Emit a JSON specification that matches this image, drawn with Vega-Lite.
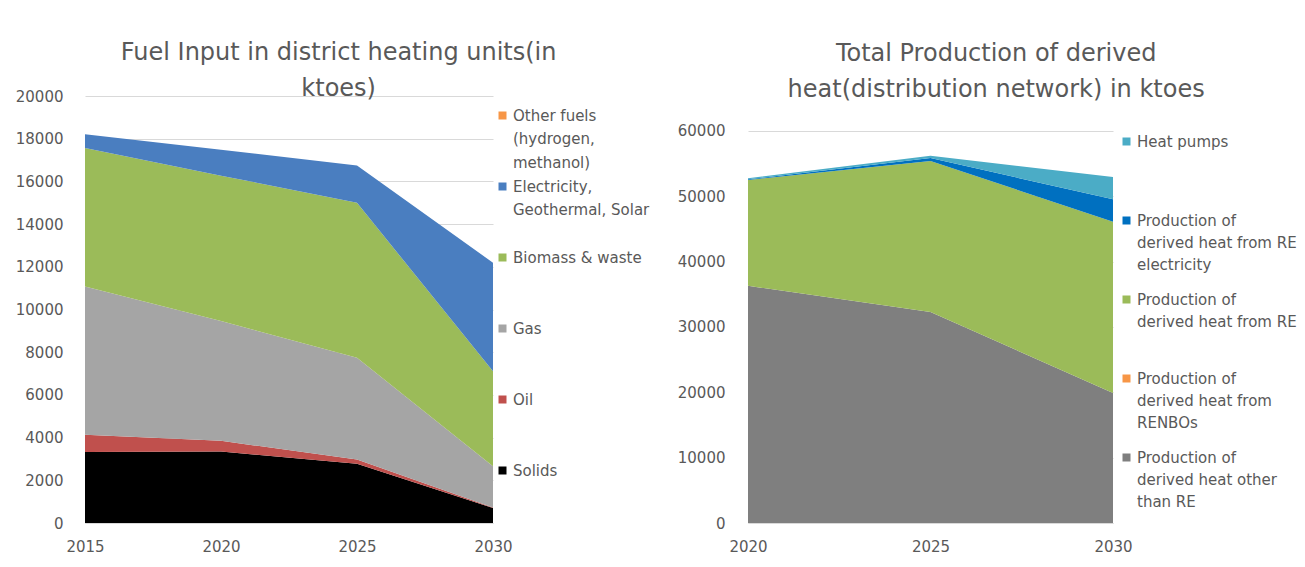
{
  "$schema": "https://vega.github.io/schema/vega-lite/v6.json",
  "background": "white",
  "padding": {"left": 15, "top": 41, "right": 5, "bottom": 5},
  "datasets": {
    "fuel": [
      {"year": 2015, "series": "Solids", "stack": 1, "value": 3330},
      {"year": 2015, "series": "Oil", "stack": 2, "value": 800},
      {"year": 2015, "series": "Gas", "stack": 3, "value": 6950},
      {"year": 2015, "series": "Biomass & waste", "stack": 4, "value": 6480},
      {"year": 2015, "series": "Electricity, Geothermal, Solar", "stack": 5, "value": 650},
      {"year": 2015, "series": "Other fuels (hydrogen, methanol)", "stack": 6, "value": 0},
      {"year": 2020, "series": "Solids", "stack": 1, "value": 3350},
      {"year": 2020, "series": "Oil", "stack": 2, "value": 500},
      {"year": 2020, "series": "Gas", "stack": 3, "value": 5610},
      {"year": 2020, "series": "Biomass & waste", "stack": 4, "value": 6810},
      {"year": 2020, "series": "Electricity, Geothermal, Solar", "stack": 5, "value": 1210},
      {"year": 2020, "series": "Other fuels (hydrogen, methanol)", "stack": 6, "value": 0},
      {"year": 2025, "series": "Solids", "stack": 1, "value": 2770},
      {"year": 2025, "series": "Oil", "stack": 2, "value": 200},
      {"year": 2025, "series": "Gas", "stack": 3, "value": 4770},
      {"year": 2025, "series": "Biomass & waste", "stack": 4, "value": 7260},
      {"year": 2025, "series": "Electricity, Geothermal, Solar", "stack": 5, "value": 1750},
      {"year": 2025, "series": "Other fuels (hydrogen, methanol)", "stack": 6, "value": 0},
      {"year": 2030, "series": "Solids", "stack": 1, "value": 700},
      {"year": 2030, "series": "Oil", "stack": 2, "value": 30},
      {"year": 2030, "series": "Gas", "stack": 3, "value": 1930},
      {"year": 2030, "series": "Biomass & waste", "stack": 4, "value": 4450},
      {"year": 2030, "series": "Electricity, Geothermal, Solar", "stack": 5, "value": 5080},
      {"year": 2030, "series": "Other fuels (hydrogen, methanol)", "stack": 6, "value": 0}
    ],
    "heat": [
      {"year": 2020, "series": "Production of derived heat other than RE", "stack": 1, "value": 36300},
      {"year": 2020, "series": "Production of derived heat from RENBOs", "stack": 2, "value": 0},
      {"year": 2020, "series": "Production of derived heat from RE", "stack": 3, "value": 16200},
      {"year": 2020, "series": "Production of derived heat from RE electricity", "stack": 4, "value": 100},
      {"year": 2020, "series": "Heat pumps", "stack": 5, "value": 160},
      {"year": 2025, "series": "Production of derived heat other than RE", "stack": 1, "value": 32300},
      {"year": 2025, "series": "Production of derived heat from RENBOs", "stack": 2, "value": 0},
      {"year": 2025, "series": "Production of derived heat from RE", "stack": 3, "value": 23100},
      {"year": 2025, "series": "Production of derived heat from RE electricity", "stack": 4, "value": 450},
      {"year": 2025, "series": "Heat pumps", "stack": 5, "value": 350},
      {"year": 2030, "series": "Production of derived heat other than RE", "stack": 1, "value": 19900},
      {"year": 2030, "series": "Production of derived heat from RENBOs", "stack": 2, "value": 0},
      {"year": 2030, "series": "Production of derived heat from RE", "stack": 3, "value": 26220},
      {"year": 2030, "series": "Production of derived heat from RE electricity", "stack": 4, "value": 3430},
      {"year": 2030, "series": "Heat pumps", "stack": 5, "value": 3410}
    ]
  },
  "config": {
    "font": "DejaVu Sans",
    "view": {"stroke": null},
    "axis": {
      "labelFont": "DejaVu Sans",
      "labelColor": "#595959",
      "labelFontSize": 15,
      "labelFlush": false,
      "ticks": false,
      "domain": false,
      "gridColor": "#D9D9D9",
      "gridWidth": 1,
      "title": null
    },
    "legend": {
      "labelFont": "DejaVu Sans",
      "labelColor": "#595959",
      "labelFontSize": 15,
      "symbolType": "square",
      "symbolSize": 64,
      "symbolStrokeWidth": 0,
      "labelOffset": 3,
      "labelLimit": 250
    },
    "title": {
      "font": "DejaVu Sans",
      "fontSize": 24,
      "fontWeight": "normal",
      "color": "#595959",
      "lineHeight": 36,
      "anchor": "middle",
      "frame": "bounds"
    },
    "concat": {"spacing": 15}
  },
  "resolve": {"scale": {"color": "independent"}, "legend": {"color": "independent"}},
  "hconcat": [
    {
      "width": 408,
      "height": 427,
      "title": {"text": ["Fuel Input in district heating units(in", "ktoes)"], "offset": -12},
      "data": {"name": "fuel"},
      "mark": {"type": "area", "interpolate": "linear"},
      "encoding": {
        "x": {
          "field": "year", "type": "quantitative",
          "scale": {"domain": [2015, 2030], "nice": false, "zero": false},
          "axis": {"values": [2015, 2020, 2025, 2030], "format": "d", "grid": false, "labelPadding": 16, "domain": true, "domainColor": "#D9D9D9"}
        },
        "y": {
          "field": "value", "type": "quantitative", "stack": "zero",
          "scale": {"domain": [0, 20000], "nice": false},
          "axis": {"values": [0, 2000, 4000, 6000, 8000, 10000, 12000, 14000, 16000, 18000, 20000], "format": "d", "grid": true, "labelPadding": 22}
        },
        "color": {
          "field": "series", "type": "nominal",
          "scale": {
            "domain": ["Other fuels (hydrogen, methanol)", "Electricity, Geothermal, Solar", "Biomass & waste", "Gas", "Oil", "Solids"],
            "range": ["#F79646", "#4A7EC0", "#9BBB59", "#A5A5A5", "#C0504D", "#000000"]
          },
          "legend": {
            "title": null,
            "orient": "right",
            "offset": -10,
            "padding": 12,
            "rowPadding": 8,
            "labelExpr": "datum.label == 'Other fuels (hydrogen, methanol)' ? ['Other fuels', '(hydrogen,', 'methanol)'] : datum.label == 'Electricity, Geothermal, Solar' ? ['Electricity,', 'Geothermal, Solar', ' '] : [datum.label, ' ', ' ']",
            "encode": {"labels": {"update": {"lineHeight": {"value": 23.5}}}}
          }
        },
        "order": {"field": "stack", "type": "quantitative"}
      }
    },
    {
      "width": 365,
      "height": 427,
      "title": {"text": ["Total Production of derived", "heat(distribution network) in ktoes"], "offset": -6, "dx": -10},
      "data": {"name": "heat"},
      "mark": {"type": "area", "interpolate": "linear"},
      "encoding": {
        "x": {
          "field": "year", "type": "quantitative",
          "scale": {"domain": [2020, 2030], "nice": false, "zero": false},
          "axis": {"values": [2020, 2025, 2030], "format": "d", "grid": false, "labelPadding": 16, "domain": true, "domainColor": "#D9D9D9"}
        },
        "y": {
          "field": "value", "type": "quantitative", "stack": "zero",
          "scale": {"domain": [0, 65357], "nice": false},
          "axis": {"values": [0, 10000, 20000, 30000, 40000, 50000, 60000], "format": "d", "grid": true, "labelPadding": 23}
        },
        "color": {
          "field": "series", "type": "nominal",
          "scale": {
            "domain": ["Heat pumps", "Production of derived heat from RE electricity", "Production of derived heat from RE", "Production of derived heat from RENBOs", "Production of derived heat other than RE"],
            "range": ["#4BACC6", "#0070C0", "#9BBB59", "#F79646", "#7F7F7F"]
          },
          "legend": {
            "title": null,
            "orient": "right",
            "offset": -32,
            "padding": 38,
            "rowPadding": 19,
            "labelExpr": "datum.label == 'Heat pumps' ? ['Heat pumps', ' ', ' '] : datum.label == 'Production of derived heat from RE electricity' ? ['Production of', 'derived heat from RE', 'electricity'] : datum.label == 'Production of derived heat from RE' ? ['Production of', 'derived heat from RE', ' '] : datum.label == 'Production of derived heat from RENBOs' ? ['Production of', 'derived heat from', 'RENBOs'] : ['Production of', 'derived heat other', 'than RE']",
            "encode": {"labels": {"update": {"lineHeight": {"value": 22}}}}
          }
        },
        "order": {"field": "stack", "type": "quantitative"}
      }
    }
  ]
}
